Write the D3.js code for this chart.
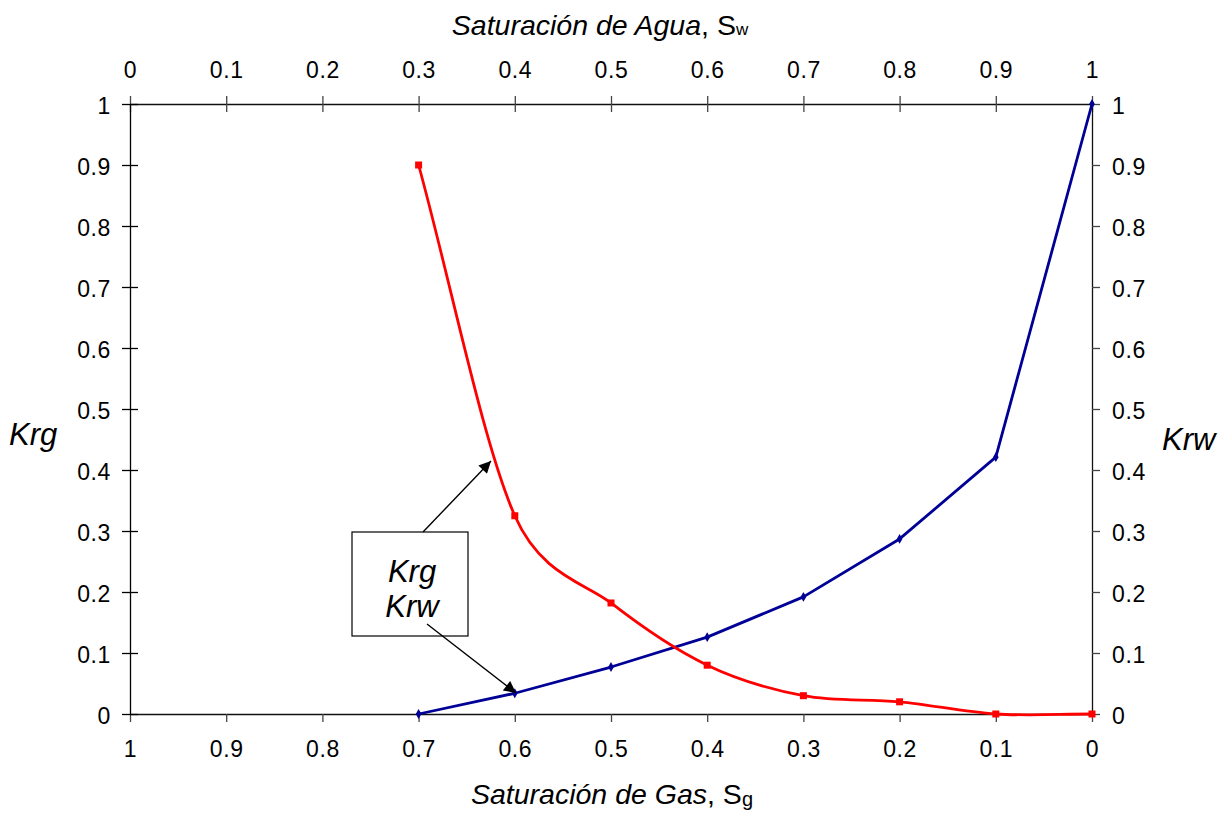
<!DOCTYPE html>
<html>
<head>
<meta charset="utf-8">
<script src="https://cdn.jsdelivr.net/npm/d3@7"></script>
<style>
  html, body { margin: 0; padding: 0; background: #fff; }
  svg { display: block; font-family: "Liberation Sans", Arial, sans-serif; }
</style>
</head>
<body>
<svg id="chart" width="1228" height="815"></svg>
<script>
// Water saturation (top axis) for each measured point
const sw = [0.3, 0.4, 0.5, 0.6, 0.7, 0.8, 0.9, 1.0];
// Relative permeability to gas
const krg = [0.9, 0.325, 0.182, 0.08, 0.03, 0.02, 0.0, 0.0];
// Relative permeability to water
const krw = [0.0, 0.034, 0.077, 0.126, 0.192, 0.287, 0.421, 1.0];
// Tick values shared by all four axes
const ticks = [0, 0.1, 0.2, 0.3, 0.4, 0.5, 0.6, 0.7, 0.8, 0.9, 1];

(function () {
const svg = d3.select("#chart");
const L = 130, R = 1092, T = 104, B = 714;

const xSw = d3.scaleLinear().domain([0, 1]).range([L, R]);
const xSg = d3.scaleLinear().domain([1, 0]).range([L, R]);
const y = d3.scaleLinear().domain([0, 1]).range([B, T]);

const fmt = d => d === 0 ? "0" : d === 1 ? "1" : d3.format(".1f")(d);

function styleAxis(g) {
  g.attr("font-size", 23).attr("font-family", "Liberation Sans, Arial, sans-serif");
  g.select(".domain").attr("stroke", "#111").attr("stroke-width", 1.3);
  g.selectAll(".tick line").attr("stroke", "#444").attr("stroke-width", 1.3);
  g.selectAll(".tick text")
    .style("font-size", "23px")
    .style("letter-spacing", "0.6px")
    .attr("fill", "#000");
}

// Bottom axis: gas saturation (reversed)
const gB = svg.append("g").attr("transform", `translate(0,${B})`)
  .call(d3.axisBottom(xSg).tickValues(ticks).tickFormat(fmt).tickSizeInner(8).tickSizeOuter(0).tickPadding(19));
styleAxis(gB);
gB.selectAll(".tick text").attr("dy", "0.71em");

// Top axis: water saturation, ticks crossing the line
const gT = svg.append("g").attr("transform", `translate(0,${T})`)
  .call(d3.axisTop(xSw).tickValues(ticks).tickFormat(fmt).tickSizeInner(8).tickSizeOuter(0).tickPadding(18));
styleAxis(gT);
gT.selectAll(".tick line").attr("y1", 8).attr("y2", -8);

// Left axis: Krg, ticks crossing
const gL = svg.append("g").attr("transform", `translate(${L},0)`)
  .call(d3.axisLeft(y).tickValues(ticks).tickFormat(fmt).tickSizeInner(8).tickSizeOuter(0).tickPadding(11));
styleAxis(gL);
gL.select(".domain").attr("stroke", "#000");
gL.selectAll(".tick line").attr("x1", 8).attr("x2", -8).attr("stroke", "#000");
gL.selectAll(".tick text").attr("dy", "0.42em");

// Right axis: Krw
const gR = svg.append("g").attr("transform", `translate(${R},0)`)
  .call(d3.axisRight(y).tickValues(ticks).tickFormat(fmt).tickSizeInner(8).tickSizeOuter(0).tickPadding(12));
styleAxis(gR);
gR.selectAll(".tick text").attr("dy", "0.42em");

// Krw: straight segments, navy, small diamond markers
const lineKrw = d3.line().x((d, i) => xSw(sw[i])).y(d => y(d));
svg.append("path").datum(krw)
  .attr("d", lineKrw)
  .attr("fill", "none").attr("stroke", "#000096").attr("stroke-width", 2.8)
  .attr("stroke-linejoin", "round");
svg.append("g").selectAll("path").data(krw).join("path")
  .attr("transform", (d, i) => `translate(${xSw(sw[i])},${y(d)})`)
  .attr("d", d3.symbol(d3.symbolDiamond, 28))
  .attr("fill", "#000096");

// Smoothed Bezier through the points, control arms limited to half a segment
function smoothPath(pts) {
  const p = d3.path();
  const dist = (a, b) => Math.hypot(a[0] - b[0], a[1] - b[1]);
  p.moveTo(pts[0][0], pts[0][1]);
  for (let i = 0; i < pts.length - 1; i++) {
    const P0 = pts[Math.max(i - 1, 0)], P1 = pts[i], P2 = pts[i + 1], P3 = pts[Math.min(i + 2, pts.length - 1)];
    const d12 = dist(P1, P2), d02 = dist(P0, P2), d13 = dist(P1, P3);
    let f0, f1;
    if (d02 / 6 < d12 / 2 && d13 / 6 < d12 / 2) {
      f0 = (P0 === P1) ? 1 / 3 : 1 / 6;
      f1 = (P2 === P3) ? 1 / 3 : 1 / 6;
    } else if (d02 / 6 >= d12 / 2 && d13 / 6 >= d12 / 2) {
      f0 = d12 / 2 / d02; f1 = d12 / 2 / d13;
    } else if (d02 / 6 >= d12 / 2) {
      f0 = d12 / 2 / d02; f1 = d12 / 2 / d13 * (d13 / d02);
    } else {
      f0 = d12 / 2 / d02 * (d02 / d13); f1 = d12 / 2 / d13;
    }
    p.bezierCurveTo(
      P1[0] + (P2[0] - P0[0]) * f0, P1[1] + (P2[1] - P0[1]) * f0,
      P2[0] - (P3[0] - P1[0]) * f1, P2[1] - (P3[1] - P1[1]) * f1,
      P2[0], P2[1]);
  }
  return p.toString();
}

// Krg: smoothed curve, red, square markers
const krgPts = krg.map((d, i) => [xSw(sw[i]), y(d)]);
svg.append("path")
  .attr("d", smoothPath(krgPts))
  .attr("fill", "none").attr("stroke", "#ff0000").attr("stroke-width", 2.8);
svg.append("g").selectAll("rect").data(krg).join("rect")
  .attr("x", (d, i) => xSw(sw[i]) - 3.5).attr("y", d => y(d) - 3.5)
  .attr("width", 7).attr("height", 7).attr("fill", "#ff0000");

// Axis titles
const topTitle = svg.append("text").attr("x", 600).attr("y", 35)
  .attr("text-anchor", "middle").attr("font-size", 28.5);
topTitle.append("tspan").attr("font-style", "italic").text("Saturación de Agua");
topTitle.append("tspan").text(", S");
topTitle.append("tspan").attr("font-size", 17).text("w");

const botTitle = svg.append("text").attr("x", 612).attr("y", 804)
  .attr("text-anchor", "middle").attr("font-size", 28.5);
botTitle.append("tspan").attr("font-style", "italic").text("Saturación de Gas");
botTitle.append("tspan").text(", S");
botTitle.append("tspan").attr("font-size", 20).attr("dy", 2).text("g");

svg.append("text").attr("x", 9).attr("y", 445)
  .attr("font-size", 31).attr("font-style", "italic").text("Krg");
svg.append("text").attr("x", 1162).attr("y", 450)
  .attr("font-size", 31).attr("font-style", "italic").text("Krw");

// Callout box with arrows
svg.append("defs").append("marker")
  .attr("id", "arrowhead").attr("viewBox", "0 0 10 10")
  .attr("refX", 10).attr("refY", 5)
  .attr("markerWidth", 16).attr("markerHeight", 12)
  .attr("markerUnits", "userSpaceOnUse")
  .attr("orient", "auto")
  .append("path").attr("d", "M0,0 L10,5 L0,10 z").attr("fill", "#000");

svg.append("rect").attr("x", 352).attr("y", 532).attr("width", 116).attr("height", 104)
  .attr("fill", "#fff").attr("stroke", "#000").attr("stroke-width", 1.2);
svg.append("text").attr("x", 412).attr("y", 582).attr("text-anchor", "middle")
  .attr("font-size", 31).attr("font-style", "italic").text("Krg");
svg.append("text").attr("x", 412).attr("y", 617).attr("text-anchor", "middle")
  .attr("font-size", 31).attr("font-style", "italic").text("Krw");

svg.append("line").attr("x1", 423).attr("y1", 532).attr("x2", 491).attr("y2", 461)
  .attr("stroke", "#000").attr("stroke-width", 1.4).attr("marker-end", "url(#arrowhead)");
svg.append("line").attr("x1", 427).attr("y1", 624).attr("x2", 516).attr("y2", 693)
  .attr("stroke", "#000").attr("stroke-width", 1.4).attr("marker-end", "url(#arrowhead)");
})();
</script>
</body>
</html>
